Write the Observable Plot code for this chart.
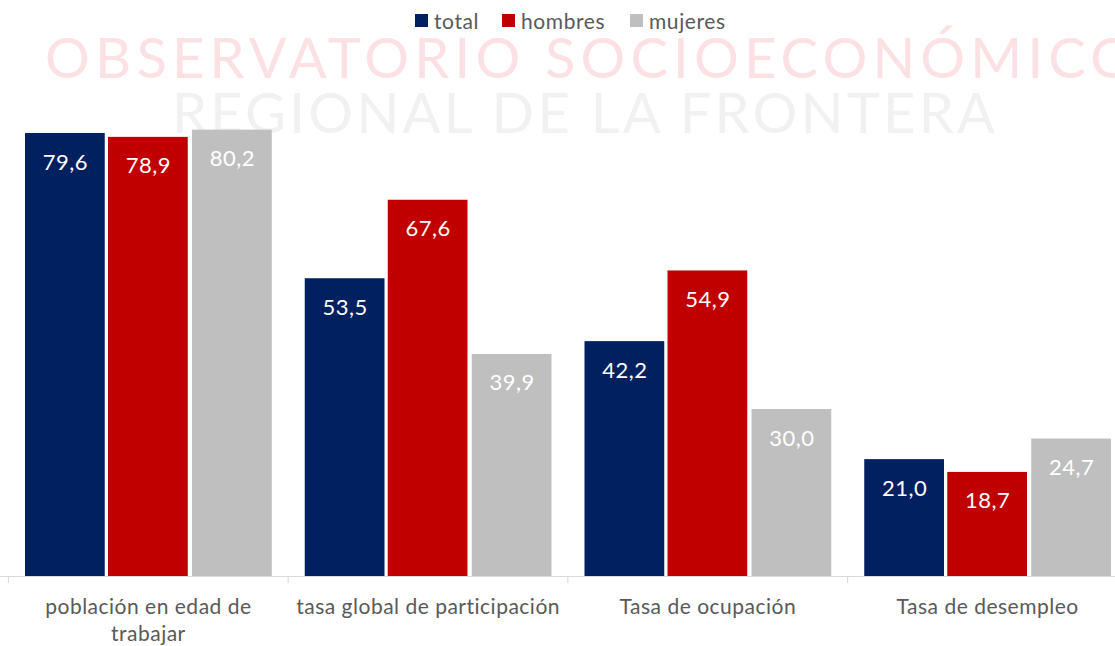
<!DOCTYPE html>
<html>
<head>
<meta charset="utf-8">
<script src="https://cdn.jsdelivr.net/npm/d3@7"></script>
<script src="https://cdn.jsdelivr.net/npm/@observablehq/plot@0.6"></script>
<style>
  html, body { margin: 0; padding: 0; background: #fff; }
  #wrap { position: relative; width: 1115px; height: 646px; overflow: hidden; font-family: Lato, "Open Sans", sans-serif; }
  #wm { position: absolute; left: 0; top: 0; z-index: 0; }
  #legend { position: relative; z-index: 2; height: 40px; }
  .lg { position: absolute; top: 8px; display: flex; align-items: center; font-size: 21px; letter-spacing: 0.6px; color: #595959; }
  .sw { width: 13px; height: 13px; margin-right: 6px; }
  #chart { position: relative; z-index: 1; }
  #chart svg { background: transparent; }
  #chart svg text { letter-spacing: 0.5px; }
</style>
</head>
<body>
<div id="wrap">
  <svg id="wm" width="1115" height="646">
    <text x="45" y="78" textLength="1090" lengthAdjust="spacing" font-family="Lato" font-weight="400" font-size="56" fill="#fbe1e4">OBSERVATORIO SOCIOECONÓMICO</text>
    <text x="172" y="133" textLength="823" lengthAdjust="spacing" font-family="Lato" font-weight="400" font-size="56" fill="#f1f1f1">REGIONAL DE LA FRONTERA</text>
  </svg>
  <div id="legend"></div>
  <div id="chart"></div>
</div>
<script>
const categories = ["población en edad de trabajar", "tasa global de participación", "Tasa de ocupación", "Tasa de desempleo"];
const tickLabels = ["población en edad de\ntrabajar", "tasa global de participación", "Tasa de ocupación", "Tasa de desempleo"];
const series = ["total", "hombres", "mujeres"];
const colors = ["#002060", "#C00000", "#BFBFBF"];
const total = [79.6, 53.5, 42.2, 21.0];
const hombres = [78.9, 67.6, 54.9, 18.7];
const mujeres = [80.2, 39.9, 30.0, 24.7];

const values = {total, hombres, mujeres};
const fmt = v => v.toFixed(1).replace(".", ",");

// legend
const legendPos = [415, 502, 630];
const lg = document.getElementById("legend");
series.forEach((s, i) => {
  const d = document.createElement("div");
  d.className = "lg";
  d.style.left = legendPos[i] + "px";
  d.innerHTML = `<div class="sw" style="background:${colors[i]}"></div><span>${s}</span>`;
  lg.appendChild(d);
});

// per-series bar placement within each category band (~280px)
const insets = {
  total:   {insetLeft: 17,  insetRight: 183, dx: -83},
  hombres: {insetLeft: 100, insetRight: 100, dx: 0},
  mujeres: {insetLeft: 184, insetRight: 16,  dx: 84}
};

const rows = s => categories.map((c, i) => ({cat: c, value: values[s][i]}));

const marks = [];
series.forEach((s, i) => {
  marks.push(Plot.barY(rows(s), {x: "cat", y: "value", fill: colors[i],
    insetLeft: insets[s].insetLeft, insetRight: insets[s].insetRight}));
});
series.forEach((s, i) => {
  marks.push(Plot.text(rows(s), {x: "cat", y: "value", text: d => fmt(d.value),
    dx: insets[s].dx, dy: 29, fill: "#ffffff", fontSize: 22, fontFamily: "Lato"}));
});
marks.push(Plot.ruleY([0], {stroke: "#d9d9d9", strokeWidth: 1}));
// category separator ticks at the left edge of each band
marks.push(Plot.ruleX(categories, {x: d => d, dx: -140, y1: 0, y2: 0, insetBottom: -7, stroke: "#d9d9d9"}));
marks.push(Plot.text(categories, {x: d => d, y: 0, text: (d, i) => tickLabels[i],
  lineAnchor: "top", dy: 18, lineHeight: 1.3, fill: "#595959", fontSize: 21, fontFamily: "Lato"}));

const chart = Plot.plot({
  width: 1115,
  height: 606,
  marginTop: 0, marginBottom: 0, marginLeft: 0, marginRight: 0,
  style: {background: "transparent", overflow: "visible"},
  x: {domain: categories, range: [8, 1127], padding: 0, round: false, axis: null},
  y: {domain: [0, 90], range: [536, 35.1], axis: null},
  marks
});
document.getElementById("chart").appendChild(chart);
</script>
</body>
</html>
